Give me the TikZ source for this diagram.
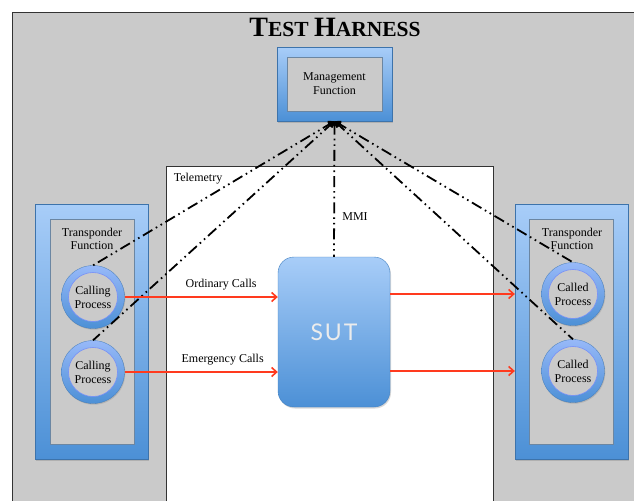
\documentclass[tikz,border=0pt]{standalone}
\usepackage{fontspec}
\setmainfont{Liberation Serif}
\newfontfamily\sutfont[LetterSpace=8]{Lato}
\usepackage{tikz}
\usetikzlibrary{shapes,arrows.meta,calc,positioning,shadows}

\definecolor{hgrey}{RGB}{202,202,202}
\definecolor{bluetop}{RGB}{168,205,248}
\definecolor{bluebot}{RGB}{76,144,214}
\definecolor{callred}{RGB}{255,58,30}

\begin{document}
\begin{tikzpicture}[x=1pt,y=-1pt,
frame/.style={
rectangle, top color=bluetop, bottom color=bluebot, draw=bluebot!80!black, line width=0.3pt,
drop shadow={opacity=0.35,shadow xshift=1pt,shadow yshift=-1.5pt}
},
pane/.style={
rectangle, fill=hgrey, draw=gray!60!bluebot, line width=0.4pt, inner sep=0pt
},
ring/.style={
circle, top color=bluetop!90!blue, bottom color=bluebot, draw=bluebot!85!black, line width=0.3pt,
minimum size=63pt, inner sep=0pt, drop shadow={opacity=0.3,shadow xshift=0.8pt,shadow yshift=-1.2pt}
},
proc/.style={
circle, fill=hgrey, draw=bluetop!70!blue, line width=0.6pt, minimum size=49pt, inner sep=0pt,
align=center, font=\fontsize{12}{14}\selectfont
},
lbl/.style={font=\fontsize{12}{13}\selectfont, align=center},
control/.style={
{Straight Barb[length=4.5pt,width=6pt]}-, line width=1.8pt,
dash pattern=on 11pt off 4pt on 1.6pt off 4pt on 1.6pt off 4pt
},
call/.style={-{Straight Barb[length=5pt,width=9pt]}, draw=callred, line width=1.6pt}
]
    \useasboundingbox (0,0) rectangle (634,501);

    % test harness and the white system area
    \fill[hgrey] (12.5,12.5) rectangle (634,501);
    \draw[gray!40!black, line width=1.2pt] (634,12.5) -- (12.5,12.5) -- (12.5,501);
    \fill[white] (166,166) rectangle (493,501);
    \draw[gray!40!black, line width=0.9pt] (166,501) -- (166,166) -- (493,166) -- (493,501);

    \node (title) at (335,27) {\bfseries\fontsize{28}{30}\selectfont T\fontsize{21.5}{24}\selectfont EST
    \fontsize{28}{30}\selectfont H\fontsize{21.5}{24}\selectfont ARNESS};

    % management function
    \node [frame, minimum width=115pt, minimum height=74pt] (mf) at (334.5,84) {};
    \node [pane, minimum width=95pt, minimum height=54pt, align=center,
      font=\fontsize{12}{14}\selectfont] (mfin) at (mf) {Management\\Function};

    % transponders
    \node [frame, minimum width=113pt, minimum height=255pt] (tl) at (91.5,331.5) {};
    \node [pane, minimum width=84pt, minimum height=225pt] (tlin) at (92,331.5) {};
    \node [frame, minimum width=113pt, minimum height=255pt] (tr) at (571.5,331.5) {};
    \node [pane, minimum width=84pt, minimum height=225pt] (trin) at (571,331.5) {};

    \node [lbl] (tltext) at (92,238.5) {Transponder\\Function};
    \node [lbl] (trtext) at (572,238.5) {Transponder\\Function};

    \node [ring] (c1) at (93,297) {};
    \node [proc] at (c1) {Calling\\Process};
    \node [ring] (c2) at (93,372) {};
    \node [proc] at (c2) {Calling\\Process};

    \node [ring] (d1) at (573,294) {};
    \node [proc] at (d1) {Called\\Process};
    \node [ring] (d2) at (573,371) {};
    \node [proc] at (d2) {Called\\Process};

    % system under test
    \node [rectangle, rounded corners=16pt, top color=bluetop, bottom color=bluebot,
      draw=bluebot!90!black, line width=0.4pt, minimum width=112pt, minimum height=150pt,
      font=\sutfont\fontsize{23}{26}\selectfont, text=white!85!gray,
      drop shadow={opacity=0.3,shadow xshift=1pt,shadow yshift=-1.5pt}] (sut) at (334,332) {SUT};

    % management links
    \draw[control] (mf.south) -- (c1.north);
    \draw[control] (mf.south) -- (c2.north);
    \draw[control] (mf.south) -- (sut.north);
    \draw[control] (mf.south) -- (d1.north);
    \draw[control] (mf.south) -- (d2.north);

    \node [lbl] (tele) at (198,179) {Telemetry};
    \node [lbl] (mmi) at (355,217) {MMI};

    % calls
    \draw[call] (c1.east) -- (c1.east -| sut.west) node [pos=0.63, above=3pt, lbl, text=black] {Ordinary Calls};
    \draw[call] (c2.east) -- (c2.east -| sut.west) node [pos=0.64, above=3pt, lbl, text=black] {Emergency Calls};
    \draw[call] (sut.east |- d1) -- (d1 -| tr.west);
    \draw[call] (sut.east |- d2) -- (d2 -| tr.west);
\end{tikzpicture}
\end{document}
